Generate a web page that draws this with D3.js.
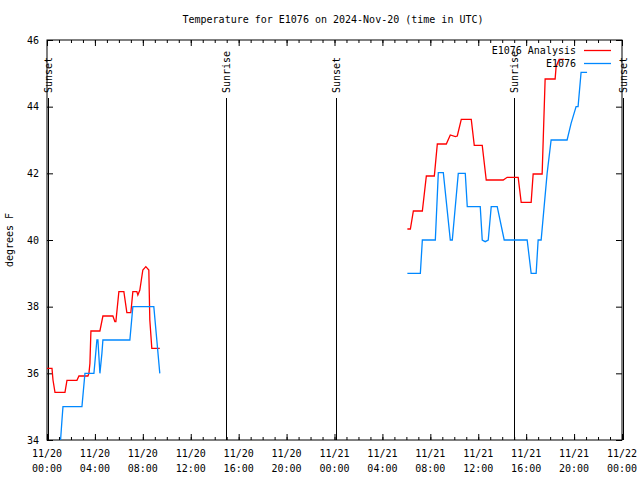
<!DOCTYPE html>
<html>
<head>
<meta charset="utf-8">
<script src="https://cdn.jsdelivr.net/npm/d3@7"></script>
<style>
  body { margin: 0; background: #fff; }
  svg { display: block; }
  text { font-family: "DejaVu Sans Mono", "Liberation Mono", monospace; font-size: 10px; fill: #000; }
</style>
</head>
<body>
<svg id="chart" width="640" height="480"></svg>
<script>
// ---------- data ----------
const titleText = "Temperature for E1076 on 2024-Nov-20 (time in UTC)";
const yLabel = "degrees F";
const seriesNames = ["E1076 Analysis", "E1076"];
const seriesColors = ["#ff0000", "#0088ff"];

// E1076 Analysis (null marks data gap)
const analysisTimes = [
  "2024-11-20T00:00","2024-11-20T00:25","2024-11-20T00:30","2024-11-20T00:40","2024-11-20T01:30",
  "2024-11-20T01:40","2024-11-20T02:30","2024-11-20T02:40","2024-11-20T03:25","2024-11-20T03:30",
  "2024-11-20T03:35","2024-11-20T03:40","2024-11-20T04:25","2024-11-20T04:40","2024-11-20T05:30",
  "2024-11-20T05:40","2024-11-20T05:45","2024-11-20T06:00","2024-11-20T06:25","2024-11-20T06:40",
  "2024-11-20T07:00","2024-11-20T07:10","2024-11-20T07:30","2024-11-20T07:35","2024-11-20T07:45",
  "2024-11-20T08:00","2024-11-20T08:15","2024-11-20T08:30","2024-11-20T08:35","2024-11-20T08:45",
  "2024-11-20T09:25","2024-11-20T12:00",
  "2024-11-21T06:05","2024-11-21T06:20","2024-11-21T06:35","2024-11-21T07:20","2024-11-21T07:40",
  "2024-11-21T08:20","2024-11-21T08:35","2024-11-21T09:20","2024-11-21T09:40","2024-11-21T10:05",
  "2024-11-21T10:15","2024-11-21T10:35","2024-11-21T11:25","2024-11-21T11:40","2024-11-21T12:20",
  "2024-11-21T12:40","2024-11-21T14:05","2024-11-21T14:25","2024-11-21T15:20","2024-11-21T15:35",
  "2024-11-21T16:25","2024-11-21T16:35","2024-11-21T17:20","2024-11-21T17:35","2024-11-21T18:25",
  "2024-11-21T18:30","2024-11-21T18:45","2024-11-21T19:10"
];
const analysisValues = [
  36.15,36.15,35.8,35.43,35.43,
  35.79,35.79,35.92,35.92,36.0,
  36.3,37.27,37.27,37.72,37.72,
  37.55,37.55,38.45,38.45,37.82,
  37.82,38.45,38.45,38.35,38.5,
  39.1,39.2,39.1,37.6,36.75,
  36.75,null,
  40.33,40.33,40.87,40.87,41.92,
  41.92,42.88,42.88,43.15,43.1,
  43.12,43.62,43.62,42.84,42.84,
  41.8,41.8,41.88,41.88,41.13,
  41.13,41.98,41.98,44.83,44.83,
  45.2,45.42,45.42
];

// E1076 observations
const obsTimes = [
  "2024-11-20T01:08","2024-11-20T01:15","2024-11-20T01:20","2024-11-20T02:55","2024-11-20T03:10",
  "2024-11-20T03:55","2024-11-20T04:10","2024-11-20T04:15","2024-11-20T04:25","2024-11-20T04:35",
  "2024-11-20T04:40","2024-11-20T06:55","2024-11-20T07:10","2024-11-20T08:55","2024-11-20T09:10",
  "2024-11-20T09:25","2024-11-20T12:00",
  "2024-11-21T06:05","2024-11-21T07:10","2024-11-21T07:20","2024-11-21T08:25","2024-11-21T08:40",
  "2024-11-21T09:05","2024-11-21T09:40","2024-11-21T09:50","2024-11-21T10:20","2024-11-21T10:55",
  "2024-11-21T11:05","2024-11-21T12:10","2024-11-21T12:20","2024-11-21T12:35","2024-11-21T12:50",
  "2024-11-21T13:05","2024-11-21T13:35","2024-11-21T14:10","2024-11-21T16:05","2024-11-21T16:25",
  "2024-11-21T16:50","2024-11-21T17:00","2024-11-21T17:15","2024-11-21T17:30","2024-11-21T17:45",
  "2024-11-21T18:05","2024-11-21T19:25","2024-11-21T19:45","2024-11-21T20:10","2024-11-21T20:20",
  "2024-11-21T20:35","2024-11-21T21:05"
];
const obsValues = [
  34.0,34.6,35.0,35.0,36.0,
  36.0,37.0,37.0,36.0,36.6,
  37.0,37.0,38.0,38.0,37.0,
  36.0,null,
  39.0,39.0,40.0,40.0,42.02,
  42.02,40.0,40.0,42.0,42.0,
  41.0,41.0,40.0,39.95,40.0,
  41.0,41.0,40.0,40.0,39.0,
  39.0,40.0,40.0,41.0,42.0,
  43.0,43.0,43.5,44.0,44.0,
  45.03,45.03
];

// sunrise / sunset markers
const eventTimes = ["2024-11-20T00:07","2024-11-20T14:57","2024-11-21T00:07","2024-11-21T14:58","2024-11-22T00:07"];
const eventLabels = ["Sunset","Sunrise","Sunset","Sunrise","Sunset"];

// axis
const xDomain = ["2024-11-20T00:00","2024-11-22T00:00"];
const yDomain = [34, 46];
const yTicks = [34, 36, 38, 40, 42, 44, 46];

// ---------- drawing ----------
const parse = s => new Date(s + ":00Z");
const svg = d3.select("#chart");
const L = 47, R = 622, T = 40, B = 440;

const x = d3.scaleUtc().domain(xDomain.map(parse)).range([L, R]);
const y = d3.scaleLinear().domain(yDomain).range([B, T]);

// title
svg.append("text").attr("x", 333).attr("y", 23).attr("text-anchor", "middle").text(titleText);

// y label
svg.append("text").attr("transform", "translate(13,240) rotate(-90)")
  .attr("text-anchor", "middle").text(yLabel);

// ticks
const majorX = d3.utcHour.every(4).range(x.domain()[0], new Date(+x.domain()[1] + 1));
const minorX = d3.utcHour.every(1).range(x.domain()[0], new Date(+x.domain()[1] + 1));
const fmtD = d3.utcFormat("%m/%d"), fmtT = d3.utcFormat("%H:%M");

const gx = svg.append("g").attr("transform", `translate(0,${B})`)
  .call(d3.axisBottom(x).tickValues(minorX).tickSize(-3).tickFormat(""));
gx.select(".domain").remove();
const gx2 = svg.append("g").attr("transform", `translate(0,${B})`)
  .call(d3.axisBottom(x).tickValues(majorX).tickSize(-6).tickPadding(0).tickFormat(""));
gx2.select(".domain").remove();
const gxt = svg.append("g").attr("transform", `translate(0,${T})`)
  .call(d3.axisTop(x).tickValues(minorX).tickSize(-3).tickFormat(""));
gxt.select(".domain").remove();
const gxt2 = svg.append("g").attr("transform", `translate(0,${T})`)
  .call(d3.axisTop(x).tickValues(majorX).tickSize(-6).tickFormat(""));
gxt2.select(".domain").remove();

// x tick labels (two lines)
const lab = svg.append("g");
majorX.forEach(d => {
  const t = lab.append("text").attr("x", x(d)).attr("text-anchor", "middle");
  t.append("tspan").attr("x", x(d)).attr("y", 457).text(fmtD(d));
  t.append("tspan").attr("x", x(d)).attr("y", 472).text(fmtT(d));
});

const gy = svg.append("g").attr("transform", `translate(${L},0)`)
  .call(d3.axisLeft(y).tickValues(yTicks).tickSize(-6).tickPadding(8).tickFormat(d3.format("d")));
gy.select(".domain").remove();
gy.selectAll("text").style("font-family", "DejaVu Sans Mono").style("font-size", "10px");
const gyr = svg.append("g").attr("transform", `translate(${R},0)`)
  .call(d3.axisRight(y).tickValues(yTicks).tickSize(-6).tickFormat(""));
gyr.select(".domain").remove();
svg.selectAll(".tick line").attr("stroke", "#000");

// border
svg.append("rect").attr("x", L).attr("y", T).attr("width", R - L).attr("height", B - T)
  .attr("fill", "none").attr("stroke", "#000").attr("stroke-width", 1);

// sun events
eventTimes.forEach((t, i) => {
  const xx = Math.round(x(parse(t))) + 0.5;
  svg.append("line").attr("x1", xx).attr("x2", xx).attr("y1", 98).attr("y2", B)
    .attr("stroke", "#000").attr("stroke-width", 1);
  svg.append("text").attr("transform", `translate(${xx},93) rotate(-90)`)
    .attr("dy", "0.35em").attr("text-anchor", "start").text(eventLabels[i]);
});

// series
const clip = svg.append("clipPath").attr("id", "clip").append("rect")
  .attr("x", L).attr("y", T).attr("width", R - L).attr("height", B - T);
const line = d3.line().defined(d => d.v != null).x(d => x(d.t)).y(d => y(d.v));
const series = [
  analysisTimes.map((t, i) => ({ t: parse(t), v: analysisValues[i] })),
  obsTimes.map((t, i) => ({ t: parse(t), v: obsValues[i] }))
];
series.forEach((s, i) => {
  svg.append("path").datum(s).attr("d", line).attr("fill", "none")
    .attr("stroke", seriesColors[i]).attr("stroke-width", 1.3)
    .attr("clip-path", "url(#clip)");
});

// legend
seriesNames.forEach((n, i) => {
  const yy = 50 + i * 13;
  svg.append("text").attr("x", 576).attr("y", yy).attr("dy", "0.35em")
    .attr("text-anchor", "end").text(n);
  svg.append("line").attr("x1", 584).attr("x2", 611).attr("y1", yy + 0.5).attr("y2", yy + 0.5)
    .attr("stroke", seriesColors[i]).attr("stroke-width", 1.3);
});
</script>
</body>
</html>
